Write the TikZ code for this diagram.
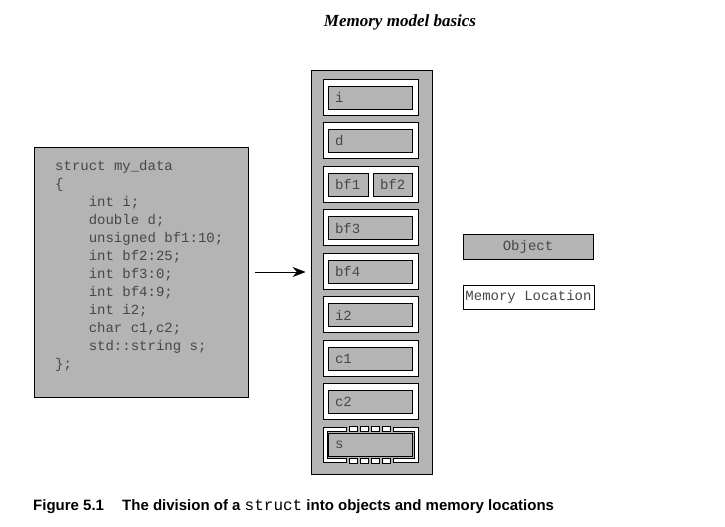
\documentclass[tikz,border=0pt]{standalone}
\usepackage{fontspec}
\setmainfont{Liberation Serif}
\setsansfont{Liberation Sans}
\setmonofont{Liberation Mono}
\usetikzlibrary{arrows.meta}
\definecolor{objgray}{HTML}{B4B4B4}
\definecolor{codetext}{HTML}{474747}

\begin{document}
\begin{tikzpicture}[x=1pt,y=-1pt]

\def\locw{95pt}
\def\loch{36pt}
\def\objh{23pt}
\def\colx{370.5}
\def\objx{370}
\def\ind{\hspace*{33.6pt}}
\def\ttsize{\ttfamily\fontsize{14}{18}\selectfont}

\tikzset{memloc/.style = {draw, fill=white, line width=0.8pt, minimum width=\locw, minimum height=\loch, inner sep=0pt}}
\tikzset{objbox/.style = {draw, fill=objgray, line width=0.8pt, minimum height=\objh, inner xsep=7pt, inner ysep=0pt, text width=70pt, align=left, text=codetext, font=\ttsize}}
\tikzset{cell/.style = {draw, fill=white, line width=0.8pt}}

\useasboundingbox (0,0) rectangle (725,527);

% title
\node[font=\bfseries\itshape\fontsize{17}{17}\selectfont] (title) at (400,22) {Memory model basics};

% struct source
\node[draw, fill=objgray, line width=0.8pt, minimum width=214pt, minimum height=250pt] (code) at (141,272) {};
\node[anchor=north west, inner sep=0pt, align=left, text=codetext, font=\ttsize] (codelines) at (55,160) {struct my\_data\\
\{\\
\ind int i;\\
\ind double d;\\
\ind unsigned bf1:10;\\
\ind int bf2:25;\\
\ind int bf3:0;\\
\ind int bf4:9;\\
\ind int i2;\\
\ind char c1,c2;\\
\ind std::string s;\\
\};};

% memory column
\node[draw, fill=objgray, line width=0.8pt, minimum width=121pt, minimum height=404pt] (mem) at (371.5,272) {};

\draw[line width=0.8pt, -{Stealth[length=13pt,width=10pt]}] ([xshift=7pt]code.east) -- ([xshift=-5pt]mem.west);

\node[memloc] (loci) at (\colx,97) {};
\node[objbox] (obji) at (\objx,97.5) {i};

\node[memloc] (locd) at (\colx,140.5) {};
\node[objbox] (objd) at (\objx,141) {d};

\node[memloc] (locbf) at (\colx,184) {};
\node[objbox, text width=26pt] (objbfa) at (348,184.5) {bf1};
\node[objbox, text width=25pt] (objbfb) at (392.5,184.5) {bf2};

\node[memloc] (locbfc) at (\colx,227.5) {};
\node[objbox] (objbfc) at (\objx,228) {bf3};

\node[memloc] (locbfd) at (\colx,271) {};
\node[objbox] (objbfd) at (\objx,271.5) {bf4};

\node[memloc] (locii) at (\colx,314.5) {};
\node[objbox] (objii) at (\objx,315) {i2};

\node[memloc] (locca) at (\colx,358) {};
\node[objbox] (objca) at (\objx,358.5) {c1};

\node[memloc] (loccb) at (\colx,401.5) {};
\node[objbox] (objcb) at (\objx,402) {c2};

% s spans several locations
\filldraw[cell] (346,427) -- (323,427) -- (323,462) -- (346,462) -- (346,458) -- (327,458) -- (327,431.5) -- (346,431.5) -- cycle;
\filldraw[cell] (393,427) -- (418,427) -- (418,462) -- (393,462) -- (393,458) -- (414,458) -- (414,431.5) -- (393,431.5) -- cycle;
\filldraw[cell] (349,426.5) rectangle (357,431.5) (360,426.5) rectangle (368,431.5) (371,426.5) rectangle (379,431.5) (382,426.5) rectangle (390,431.5);
\filldraw[cell] (349,458) rectangle (357,463) (360,458) rectangle (368,463) (371,458) rectangle (379,463) (382,458) rectangle (390,463);
\node[objbox] (objs) at (\objx,445) {s};

% legend
\node[objbox, align=center, text width=116pt, minimum height=25pt] (legobj) at (528,246.5) {Object};
\node[memloc, minimum width=131pt, minimum height=24pt, text=codetext, font=\ttsize] (legloc) at (528.5,297) {Memory Location};

% caption
\node[anchor=base west, inner sep=0pt, font=\sffamily\bfseries\fontsize{15}{15}\selectfont] (fignum) at (33,510) {Figure 5.1};
\node[anchor=base west, inner sep=0pt, font=\sffamily\bfseries\fontsize{15}{15}\selectfont] (figcap) at (122,510) {The division of a {\mdseries\ttfamily\fontsize{16}{16}\selectfont struct} into objects and memory locations};

\end{tikzpicture}
\end{document}
